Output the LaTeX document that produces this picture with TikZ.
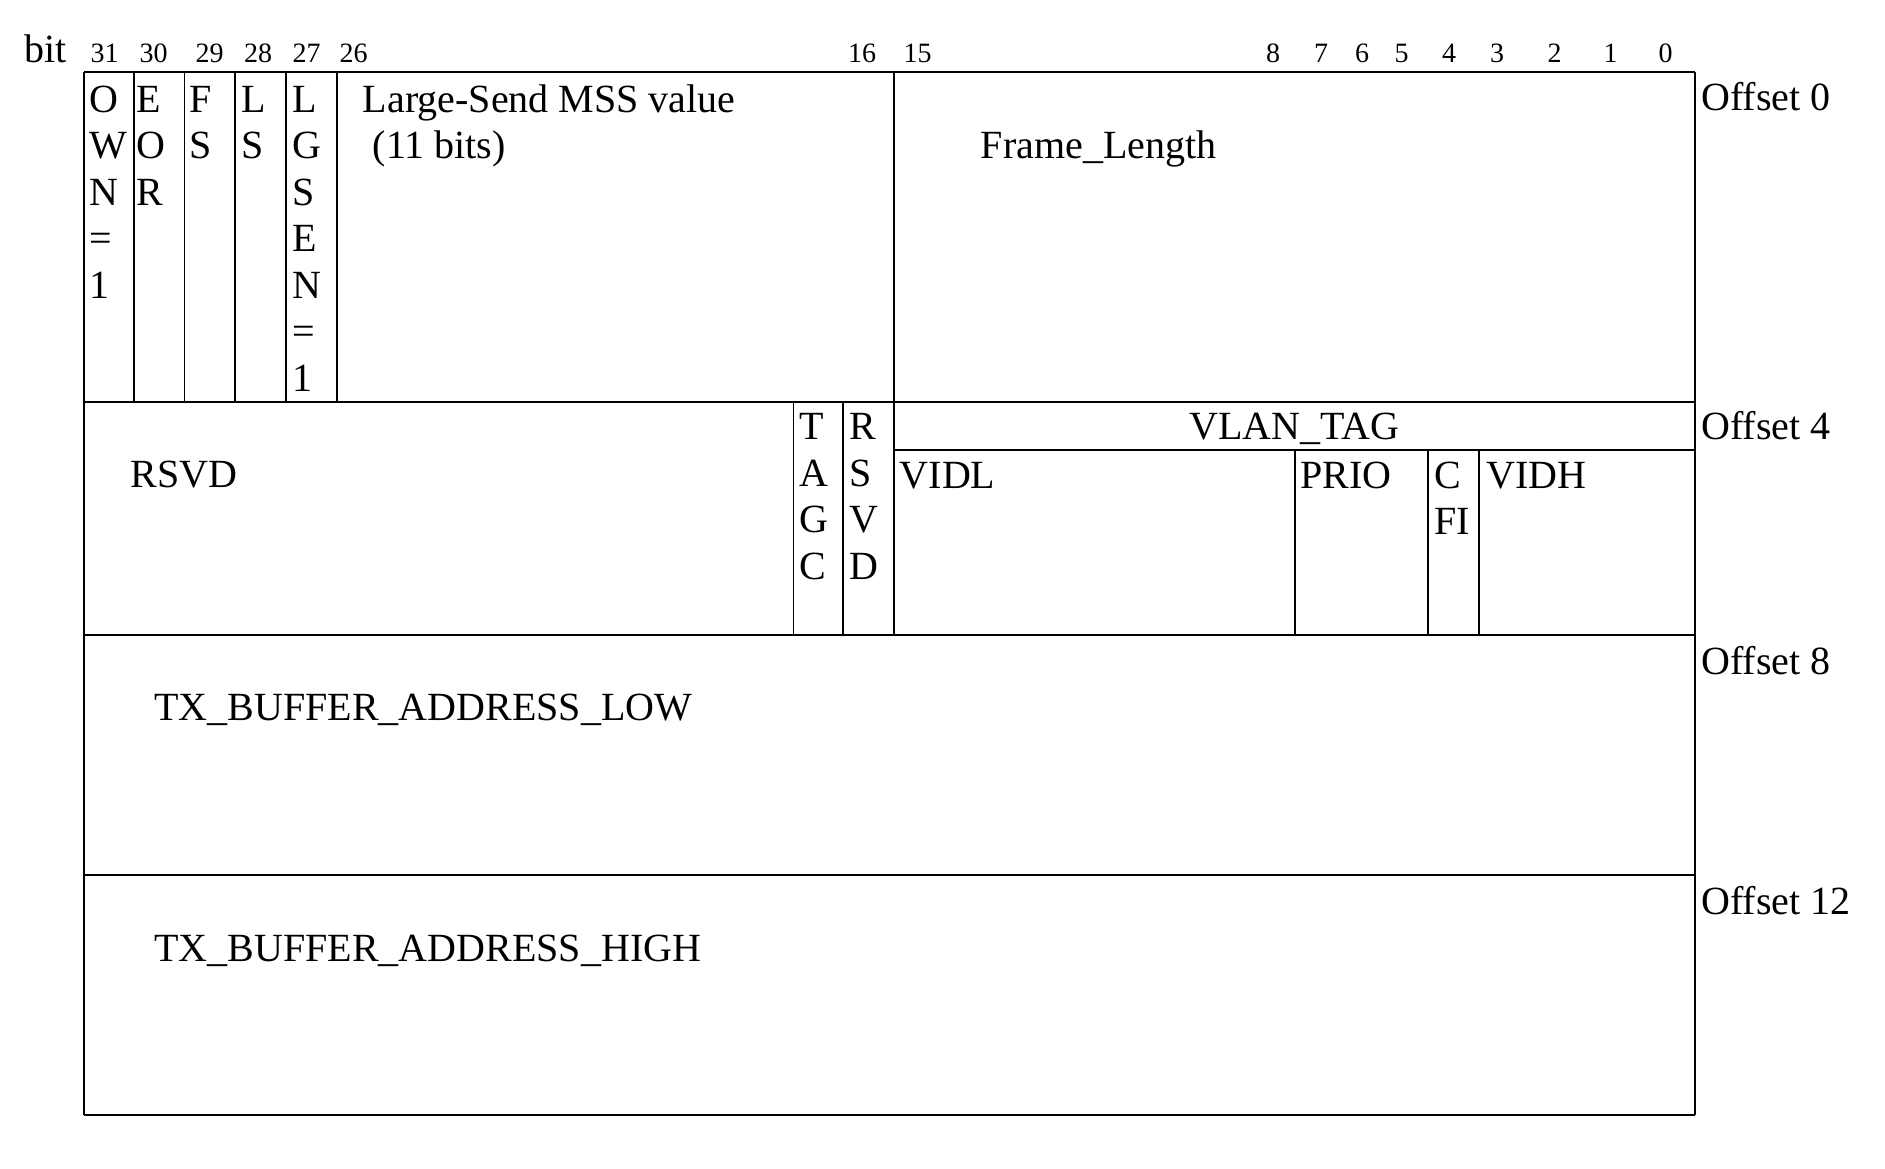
\documentclass[tikz,border=0pt]{standalone}
\usepackage{fontspec}
\setmainfont{Liberation Serif}
\usepackage{tikz}
\newcommand{\fieldfont}{\fontsize{20}{23.25}\selectfont}
\newcommand{\bitfont}{\fontsize{14}{16}\selectfont}

\begin{document}
\begin{tikzpicture}[
    x=0.5pt, y=-0.5pt,
    field/.style={anchor=base west, inner sep=0pt, align=left, font=\fieldfont},
    title/.style={anchor=base, inner sep=0pt, font=\fieldfont},
    bitno/.style={anchor=base, inner sep=0pt, font=\bitfont},
    frame/.style={line width=1pt},
    divider/.style={line width=0.6pt},
]
\useasboundingbox (0,0) rectangle (1885,1168);

% Descriptor words
\draw[frame] (84,72) -- (1695,72);
\draw[frame] (84,401.5) -- (1695,401.5);
\draw[frame] (84,635) -- (1695,635);
\draw[frame] (84,875) -- (1695,875);
\draw[frame] (84,1115) -- (1695,1115);
\draw[frame] (84,72) -- (84,1115);
\draw[frame] (1695,72) -- (1695,1115);

% Field dividers — offset 0
\draw[divider] (134,72) -- (134,401.5);
\draw[divider] (184.5,72) -- (184.5,401.5);
\draw[divider] (235,72) -- (235,401.5);
\draw[divider] (286,72) -- (286,401.5);
\draw[divider] (337,72) -- (337,401.5);
\draw[divider] (894,72) -- (894,635);

% Field dividers — offset 4
\draw[divider] (793.5,401.5) -- (793.5,635);
\draw[divider] (843,401.5) -- (843,635);
\draw[frame] (894,450) -- (1695,450);
\draw[divider] (1295,450) -- (1295,635);
\draw[divider] (1428,450) -- (1428,635);
\draw[divider] (1479,450) -- (1479,635);

% Bit numbers
\node[field] (bit) at (24,62) {bit};
\node[bitno] (b31) at (104.5,62) {31};
\node[bitno] (b30) at (153.5,62) {30};
\node[bitno] (b29) at (209.5,62) {29};
\node[bitno] (b28) at (258,62) {28};
\node[bitno] (b27) at (306.5,62) {27};
\node[bitno] (b26) at (353.5,62) {26};
\node[bitno] (b16) at (862,62) {16};
\node[bitno] (b15) at (917.5,62) {15};
\node[bitno] (b8) at (1273,62) {8};
\node[bitno] (b7) at (1321,62) {7};
\node[bitno] (b6) at (1362,62) {6};
\node[bitno] (b5) at (1401.5,62) {5};
\node[bitno] (b4) at (1449,62) {4};
\node[bitno] (b3) at (1497,62) {3};
\node[bitno] (b2) at (1554.5,62) {2};
\node[bitno] (b1) at (1610.5,62) {1};
\node[bitno] (b0) at (1665.5,62) {0};

% Offset 0 (base = baseline of the last line)
\node[field] (own) at (89,298) {O\\W\\N\\=\\1};
\node[field] (eor) at (136,205) {E\\O\\R};
\node[field] (fs) at (189.5,158.5) {F\\S};
\node[field] (ls) at (241,158.5) {L\\S};
\node[field] (lgsen) at (292,391) {L\\G\\S\\E\\N\\=\\1};
\node[field] (mss) at (362.5,158.5) {Large-Send MSS value\\\hspace*{0.25em}(11 bits)};
\node[field] (flen) at (980.5,158) {Frame\_Length};

% Offset 4
\node[field] (rsvd) at (130.5,487) {RSVD};
\node[field] (tagc) at (799,579) {T\\A\\G\\C};
\node[field] (rsvdbit) at (849.5,579) {R\\S\\V\\D};
\node[title] (vlantag) at (1294.5,439.5) {VLAN\_TAG};
\node[field] (vidl) at (899.5,488) {VIDL};
\node[field] (prio) at (1300,488) {PRIO};
\node[field] (cfi) at (1434,534.5) {C\\FI};
\node[field] (vidh) at (1486,488) {VIDH};

% Offset 8 and 12
\node[field] (buflow) at (154,720) {TX\_BUFFER\_ADDRESS\_LOW};
\node[field] (bufhigh) at (154,961) {TX\_BUFFER\_ADDRESS\_HIGH};

% Offsets on the right
\node[field] (off0) at (1701,110) {Offset 0};
\node[field] (off4) at (1701,439.5) {Offset 4};
\node[field] (off8) at (1701,674) {Offset 8};
\node[field] (off12) at (1701,914) {Offset 12};

\end{tikzpicture}
\end{document}
